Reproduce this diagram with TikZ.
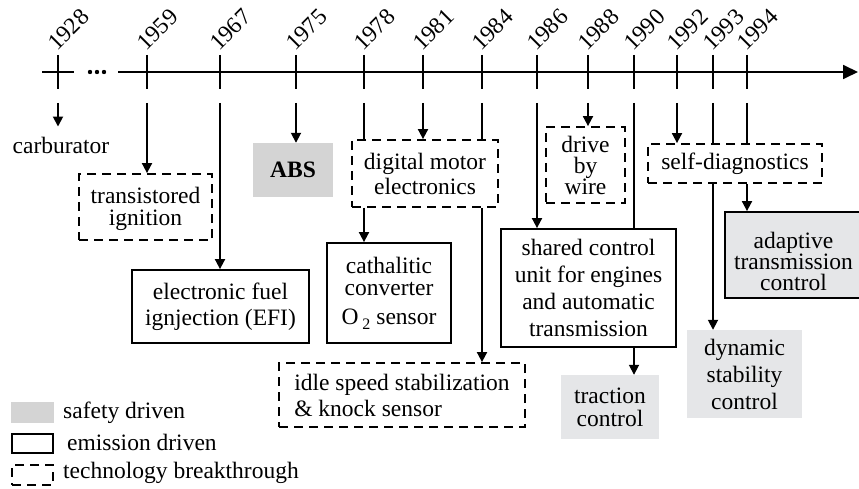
\documentclass[tikz,border=0pt]{standalone}
\usepackage{fontspec}
\setmainfont{Liberation Serif}
\usetikzlibrary{arrows.meta}
\definecolor{safegray}{HTML}{D4D4D4}
\definecolor{safelight}{HTML}{E5E6E8}

\newcommand{\fs}[1]{\fontsize{23.5}{#1}\selectfont}

\tikzset{
  every node/.style={font=\fs{26}, inner sep=0pt},
  link/.style={line width=1.8pt},
  arr/.style={link, -{Triangle[length=10pt,width=10pt]}},
  emis/.style={draw, line width=1.8pt, align=center},
  tech/.style={draw, line width=1.8pt, dash pattern=on 9pt off 6pt, align=center},
  safe/.style={fill=safelight, align=center},
  year/.style={rotate=45, anchor=base west},
}

\begin{document}
\begin{tikzpicture}[x=1pt,y=-1pt]
\useasboundingbox[fill=white] (0,0) rectangle (859,489);

% time axis
\draw[link] (42,72) -- (74,72);
\foreach \dx in {90,97,104} \fill (\dx,72) circle (2.2);
\draw[link,-{Triangle[length=15pt,width=14pt]}] (118,72) -- (858,72);

\foreach \yr/\x in {1928/58,1959/147,1967/220,1975/296,1978/364,1981/423,
                    1984/482,1986/537,1988/588,1990/634,1992/677,1993/713,1994/747} {
  \draw[link] (\x,55) -- (\x,89);
  \node[year] at (\x-1,52) {\yr};
  \coordinate (d\yr) at (\x,103);
}

% milestones
\node (carb) at (61,145) {carburator};
\node[tech, minimum width=133pt, minimum height=66pt, font=\fs{21.5}] (trans) at (145.5,207)
  {\rule{0pt}{20pt}transistored\\ignition};
\node[emis, minimum width=177pt, minimum height=73pt] (efi) at (220.5,306.5) {electronic fuel\\ignjection (EFI)};
\node[fill=safegray, minimum width=80pt, minimum height=54pt, font=\fs{26}\bfseries] (abs) at (293,170) {ABS};
\node[tech, minimum width=146pt, minimum height=67pt, font=\fs{25}] (dig) at (425,173.5) {digital motor\\electronics};
\node[emis, minimum width=124pt, minimum height=100pt, font=\fs{22}] (cat) at (389,293)
  {cathalitic\\converter\\[7pt]O\,\raisebox{-0.45ex}{\fontsize{16}{16}\selectfont 2} sensor};
\node[tech, minimum width=246pt, minimum height=64pt, align=left] (idle) at (402,395) {idle speed stabilization\\\& knock sensor};
\node[tech, minimum width=79pt, minimum height=76pt, font=\fs{21}] (drive) at (585.5,165) {drive\\by\\wire};
\node[emis, minimum width=175pt, minimum height=118pt, font=\fs{26.7}] (shared) at (588.5,288)
  {shared control\\unit for engines\\and automatic\\transmission};
\node[safe, minimum width=98pt, minimum height=64pt, font=\fs{23}] (trac) at (610,407) {traction\\control};
\node[tech, minimum width=174pt, minimum height=39pt] (self) at (735,163.5) {self-diagnostics};
\node[safe, minimum width=115pt, minimum height=88pt, font=\fs{27}] (dyn) at (744.5,374) {dynamic\\stability\\control};
\node[emis, fill=safelight, minimum width=137pt, minimum height=86pt,
      label={[name=adaptxt, font=\fs{21}, align=center, yshift=-6pt]center:adaptive\\transmission\\control}]
  (adap) at (793.5,255) {};

% connectors
\draw[arr, shorten >=10pt] (d1928) -- (d1928 |- carb.north);
\draw[arr] (d1959) -- (d1959 |- trans.north);
\draw[arr] (d1967) -- (d1967 |- efi.north);
\draw[arr] (d1975) -- (d1975 |- abs.north);
\draw[link] (d1978) -- (d1978 |- dig.north);
\draw[arr] (d1981) -- (d1981 |- dig.north);
\draw[link] (d1984) -- (d1984 |- dig.north);
\draw[arr] (dig.south -| d1978) -- (d1978 |- cat.north);
\draw[arr] (dig.south -| d1984) -- (d1984 |- idle.north);
\draw[arr] (d1986) -- (d1986 |- shared.north);
\draw[arr] (d1988) -- (d1988 |- drive.north);
\draw[link] (d1990) -- (d1990 |- shared.north);
\draw[arr] (shared.south -| d1990) -- (d1990 |- trac.north);
\draw[arr] (d1992) -- (d1992 |- self.north);
\draw[link] (d1993) -- (d1993 |- self.north);
\draw[link] (d1994) -- (d1994 |- self.north);
\draw[arr] (self.south -| d1993) -- (d1993 |- dyn.north);
\draw[arr] (self.south -| d1994) -- (d1994 |- adap.north);

% legend
\node[fill=safegray, minimum width=43pt, minimum height=21pt] (lg1) at (32.5,412.5) {};
\node[anchor=base west] (lt1) at (63,418) {safety driven};
\node[draw, line width=1.8pt, minimum width=41pt, minimum height=19pt] (lg2) at (32.5,443.5) {};
\node[anchor=base west] (lt2) at (67,450) {emission driven};
\node[draw, line width=1.8pt, dash pattern=on 9pt off 6pt, minimum width=41pt, minimum height=20pt] (lg3) at (32.5,475) {};
\node[anchor=base west] (lt3) at (63,478) {technology breakthrough};
\end{tikzpicture}
\end{document}
